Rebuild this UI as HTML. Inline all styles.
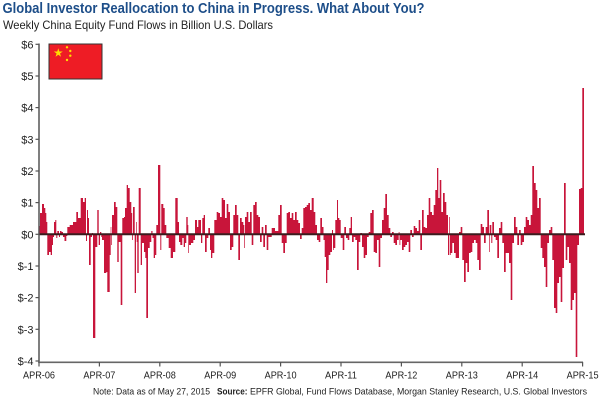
<!DOCTYPE html>
<html>
<head>
<meta charset="utf-8">
<style>
html,body{margin:0;padding:0;background:#fff;}
svg{display:block;}
</style>
</head>
<body>
<svg width="600" height="400" viewBox="0 0 600 400" xmlns="http://www.w3.org/2000/svg">
<rect x="0" y="0" width="600" height="400" fill="#ffffff"/>
<!-- Title -->
<text x="2.5" y="13" font-family="Liberation Sans, sans-serif" font-weight="bold" font-size="14.5" fill="#1d4e89" textLength="422" lengthAdjust="spacingAndGlyphs">Global Investor Reallocation to China in Progress. What About You?</text>
<text x="3" y="29" font-family="Liberation Sans, sans-serif" font-size="12" fill="#222" textLength="270" lengthAdjust="spacingAndGlyphs">Weekly China Equity Fund Flows in Billion U.S. Dollars</text>

<!-- Y axis labels -->
<g font-family="Liberation Sans, sans-serif" font-size="11" fill="#222" text-anchor="end">
<text x="33.5" y="48.3">$6</text>
<text x="33.5" y="80">$5</text>
<text x="33.5" y="111.6">$4</text>
<text x="33.5" y="143.3">$3</text>
<text x="33.5" y="175">$2</text>
<text x="33.5" y="206.6">$1</text>
<text x="33.5" y="238.3">$0</text>
<text x="33.5" y="270">$-1</text>
<text x="33.5" y="301.6">$-2</text>
<text x="33.5" y="333.3">$-3</text>
<text x="33.5" y="365">$-4</text>
</g>
<!-- Y ticks -->
<g stroke="#555" stroke-width="1.2">
<line x1="35.5" y1="44.3" x2="39" y2="44.3"/>
<line x1="35.5" y1="76" x2="39" y2="76"/>
<line x1="35.5" y1="107.6" x2="39" y2="107.6"/>
<line x1="35.5" y1="139.3" x2="39" y2="139.3"/>
<line x1="35.5" y1="171" x2="39" y2="171"/>
<line x1="35.5" y1="202.6" x2="39" y2="202.6"/>
<line x1="35.5" y1="234.3" x2="39" y2="234.3"/>
<line x1="35.5" y1="266" x2="39" y2="266"/>
<line x1="35.5" y1="297.6" x2="39" y2="297.6"/>
<line x1="35.5" y1="329.3" x2="39" y2="329.3"/>
<line x1="35.5" y1="361" x2="39" y2="361"/>
</g>

<!-- Flag -->
<rect x="49" y="44" width="53" height="35" fill="#ee1c25" stroke="#333" stroke-width="1"/>
<polygon fill="#ffde00" points="58.3,48.3 59.36,51.54 62.77,51.55 60.01,53.56 61.06,56.8 58.3,54.8 55.54,56.8 56.59,53.56 53.83,51.55 57.24,51.54"/>
<circle cx="67" cy="47.3" r="1.2" fill="#ffde00"/>
<circle cx="70.3" cy="51" r="1.2" fill="#ffde00"/>
<circle cx="70.3" cy="55.7" r="1.2" fill="#ffde00"/>
<circle cx="67" cy="60" r="1.2" fill="#ffde00"/>

<!-- Bars -->
<path fill="#c8153a" d="M39 234.3V226H40V213H42V204H44V208H45.3V213H46.3V222H47.3V255H49V252H50.7V255H52V245H53V237H54V222H55.3V220H56.3V238H57.3V231H59V237H60V231H61.5V232H63V237H64.5V241H66.3V236H67.3V227H69.7V225H73V222H76.3V212H78V218H80.7V198H83V202H84.7V198H86V241H87V210H88V218H89V265H90.7V237H92V233H93V338H95.3V247H97.3V210H98.7V245H100V232H101.3V237H102V240H104V273H106.3V272H107.3V292H109.7V255H110.7V227H111.3V245H112V215H114V202H115.7V207H117.3V262H118.7V242H120.7V305H122.3V218H124V217H125V208H126.7V185H128V188H129.7V202H131.3V213H132.2V240H133V207H134.7V293H136V222H136.7V242H137.3V273H138.7V188H140.7V265H142V243H144V252H145.3V258H146.3V318H148V248H149.7V242H151.3V231H152.5V238H153.7V258H155V255H156.3V225H158V165H160.3V250H161.3V204H163.3V208H164.7V225H166.3V238H168.7V248H170.7V258H173V252H175.3V198H177.7V222H179V242H180.3V245H182.3V238H183.7V247H185V243H186.3V217H187.7V225H188.3V253H189V245H191V243H193.3V240H195V220H197V227H198.3V220H201V243H202.3V218H203.7V215H205V252H206.7V238H208.3V228H210V250H211V258H212.3V253H214.3V220H216.7V212H218.3V213H220V217H221.7V198H223.3V200H225V218H226.7V204H228.3V212H230V250H231.7V247H233.3V215H235V205H236.7V215H238.3V260H240V218H241.7V222H243.3V225H244.3V248H245V217H246.7V212H248.3V222H250V212H251.7V245H253.3V205H255V202H256.7V215H258.3V217H260V242H261.7V227H263.3V247H265V225H266.7V250H268.3V237H271.7V228H275V231H278.3V215H280V205H281.7V243H283.3V253H285V243H286.7V213H288.3V212H290V218H291.7V213H293.3V220H295V212H296.7V220H298.3V223H300V239H301.7V228H303.3V208H305V207H306.7V205H308.3V203H310V210H311.7V198H313.7V212H315.3V225H317V240H318.7V242H320.3V218H322V227H323.5V240H324.7V257H326V283H327.3V270H328.7V255H330.3V252H332V230H333V250H333.7V248H335.3V220H337V200H338V218H339.3V220H340.7V238H342.7V250H344.3V227H346V238H347.7V240H349.3V228H350.7V217H352V242H353.7V237H355.3V240H357V270H358.7V242H360.3V233H362V247H363.7V258H365.3V255H367V237H368.7V232H370.3V213H372V210H373.7V252H375.3V253H377V240H378.7V267H380.3V238H382V220H383.7V208H385.3V194H387V215H388.7V228H390.3V237H392V232H393.7V243H395.3V245H397V240H398.7V232H399.5V245H400.3V240H402V250H403.7V247H405.3V245H407V242H408.7V252H410.3V230H412V237H413.7V226H415.3V228H417V231H418.7V220H420.3V250H422V210H423.7V227H425.3V228H427V215H428.7V198H430.3V212H432V215H433.7V205H435.3V190H437V168H438.3V198H439.7V180H441.3V212H443V193H444.7V202H446.3V215H448V255H449.3V217H450V255H450.7V253H452.3V243H454V253H455.7V258H459V232H460.7V227H462.3V260H464V282H465.7V263H467.3V272H469V253H470.7V252H472.3V243H474V240H475.7V243H477.3V260H479V270H480.7V224H482.3V227H484V243H485.7V227H487.3V210H489V252H489.7V225H491.3V243H492.3V222H494V237H495.7V240H497.3V258H499V228H500.7V222H502.3V243H504V272H505.7V253H509V263H510.7V300H512.3V243H514V217H515.7V227H517.3V245H519V230H520.7V245H522.3V242H524V227H525.7V217H527.3V220H529V225H530.7V215H532.3V166H534V183H535.7V190H537.3V208H539V198H540.7V248H542.3V258H544V267H545.7V287H547.3V243H549V230H550.7V227H552.3V260H554V308H555.7V313H557.3V283H559V277H560.7V302H562.3V268H564V183H565.7V260H567.3V247H569V263H570.7V310H572.3V300H574V293H575.7V357H577.3V245H579V189H580.7V188H582.3V88H584V234.3Z"/>

<!-- Zero line -->
<line x1="39" y1="234.3" x2="585" y2="234.3" stroke="#3a1c1e" stroke-width="2"/>

<!-- Axes -->
<line x1="39" y1="43.5" x2="39" y2="363" stroke="#555" stroke-width="1.5"/>
<line x1="38.3" y1="362.3" x2="583" y2="362.3" stroke="#666" stroke-width="1.7"/>
<g stroke="#555" stroke-width="1.2">
<line x1="39" y1="362" x2="39" y2="366.5"/>
<line x1="99.4" y1="362" x2="99.4" y2="366.5"/>
<line x1="159.8" y1="362" x2="159.8" y2="366.5"/>
<line x1="220.2" y1="362" x2="220.2" y2="366.5"/>
<line x1="280.6" y1="362" x2="280.6" y2="366.5"/>
<line x1="341" y1="362" x2="341" y2="366.5"/>
<line x1="401.4" y1="362" x2="401.4" y2="366.5"/>
<line x1="461.8" y1="362" x2="461.8" y2="366.5"/>
<line x1="522.2" y1="362" x2="522.2" y2="366.5"/>
<line x1="582.6" y1="362" x2="582.6" y2="366.5"/>
</g>

<!-- X labels -->
<g font-family="Liberation Sans, sans-serif" font-size="10.5" fill="#222">
<text x="23" y="378.3" textLength="32" lengthAdjust="spacingAndGlyphs">APR-06</text>
<text x="83.4" y="378.3" textLength="32" lengthAdjust="spacingAndGlyphs">APR-07</text>
<text x="143.8" y="378.3" textLength="32" lengthAdjust="spacingAndGlyphs">APR-08</text>
<text x="204.2" y="378.3" textLength="32" lengthAdjust="spacingAndGlyphs">APR-09</text>
<text x="264.6" y="378.3" textLength="32" lengthAdjust="spacingAndGlyphs">APR-10</text>
<text x="325" y="378.3" textLength="32" lengthAdjust="spacingAndGlyphs">APR-11</text>
<text x="385.4" y="378.3" textLength="32" lengthAdjust="spacingAndGlyphs">APR-12</text>
<text x="445.8" y="378.3" textLength="32" lengthAdjust="spacingAndGlyphs">APR-13</text>
<text x="506.2" y="378.3" textLength="32" lengthAdjust="spacingAndGlyphs">APR-14</text>
<text x="566.6" y="378.3" textLength="32" lengthAdjust="spacingAndGlyphs">APR-15</text>
</g>

<!-- Note -->
<g font-family="Liberation Sans, sans-serif" font-size="9.5" fill="#222">
<text x="93" y="394.3" textLength="117" lengthAdjust="spacingAndGlyphs">Note: Data as of May 27, 2015</text>
<text x="217" y="394.3" font-weight="bold" textLength="30.5" lengthAdjust="spacingAndGlyphs">Source:</text>
<text x="250" y="394.3" textLength="337" lengthAdjust="spacingAndGlyphs">EPFR Global, Fund Flows Database, Morgan Stanley Research, U.S. Global Investors</text>
</g>
</svg>
</body>
</html>
